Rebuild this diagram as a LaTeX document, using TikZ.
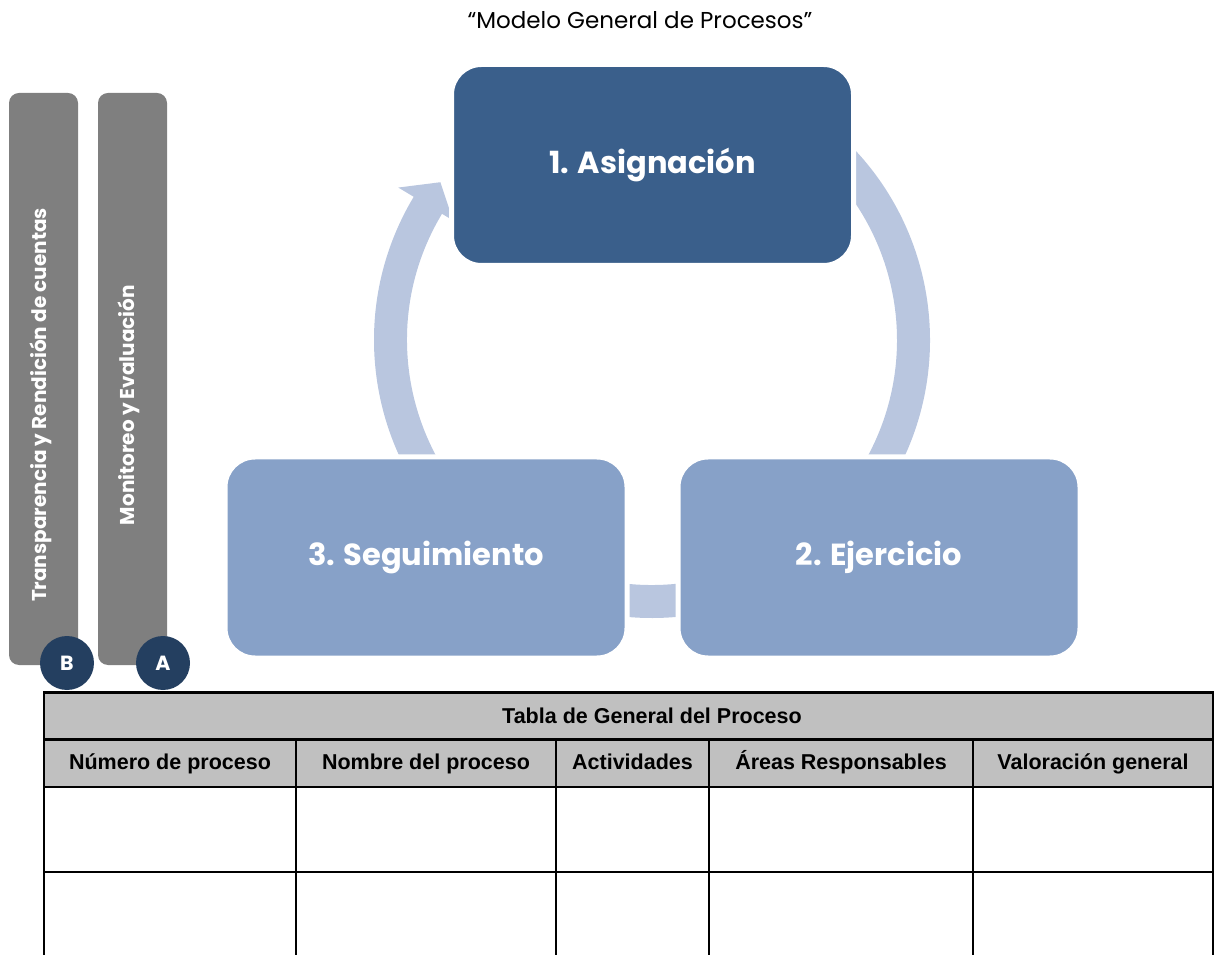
\documentclass[tikz,border=0pt]{standalone}
\usepackage{fontspec}
\setmainfont{Poppins}
\newfontfamily\tabfont{Liberation Sans}
\definecolor{darkbox}{HTML}{3A5F8B}
\definecolor{lightbox}{HTML}{87A1C8}
\definecolor{ringcol}{HTML}{B9C6DF}
\definecolor{barcol}{HTML}{7F7F7F}
\definecolor{badgecol}{HTML}{243F60}
\definecolor{headcol}{HTML}{C0C0C0}
\begin{document}
\begin{tikzpicture}[x=1pt, y=1pt, inner sep=0pt,
    stepbox/.style={rectangle, rounded corners=30pt, draw=white, line width=5pt,
      minimum width=402, minimum height=201, text=white,
      font=\fontsize{30.5}{36}\selectfont\bfseries},
    sidebar/.style={rectangle, rounded corners=10pt, fill=barcol,
      minimum width=69, minimum height=572},
    sidetext/.style={rotate=90, text=white, font=\fontsize{20}{24}\selectfont\bfseries},
    badge/.style={circle, fill=badgecol, minimum size=54, text=white,
      font=\fontsize{20.5}{24}\selectfont\bfseries},
    cell/.style={rectangle, draw=black, line width=2.2pt, text height=15, text depth=4,
      font=\tabfont\fontsize{21.5}{25}\selectfont\bfseries},
    hdr/.style={cell, fill=headcol}]
  \clip (0,0) rectangle (1215,954);

  \node[font=\fontsize{23}{27}\selectfont] (title) at (640,934) {“Modelo General de Procesos”};

  % side bars
  \node[sidebar] (barB) at (43.5,575) {};
  \node[sidebar] (barA) at (132.5,575) {};
  \node[sidetext] (txtB) at (41,549) {Transparencia y Rendición de cuentas};
  \node[sidetext] (txtA) at (129,549) {Monitoreo y Evaluación};
  \node[badge] (b) at (67,291) {B};
  \node[badge] (a) at (163,291) {A};

  % cycle arrow
  \fill[ringcol, shift={(652,614)}] (50:278) arc[start angle=50, end angle=-211, radius=278]
    -- (-211:296) -- (-216.7:264) -- (-211:232) -- (-211:245)
    arc[start angle=-211, end angle=50, radius=245] -- cycle;

  \node[stepbox, fill=darkbox] (asig) at (652.5,789) {1. Asignación};
  \node[stepbox, fill=lightbox] (seg) at (426,396.5) {3. Seguimiento};
  \node[stepbox, fill=lightbox] (ejer) at (879,396.5) {2. Ejercicio};

  % table
  \node[hdr, minimum width=1169, minimum height=47] (tab) at (628.5,238) {};
  \node[font=\tabfont\fontsize{21.5}{25}\selectfont\bfseries] (tabtitle) at (652,238) {Tabla de General del Proceso};
  \foreach \n/\cx/\w/\t in {num/170/252/Número de proceso, nom/426/260/Nombre del proceso,
      act/632.5/153/Actividades, area/841/264/Áreas Responsables, val/1093/240/Valoración general} {
    \node[hdr, minimum width=\w, minimum height=47] (\n) at (\cx,190.5) {\t};
    \node[cell, minimum width=\w, minimum height=85] (\n-1) at (\cx,124.5) {};
    \node[cell, minimum width=\w, minimum height=122] (\n-2) at (\cx,21) {};
  }
\end{tikzpicture}
\end{document}
